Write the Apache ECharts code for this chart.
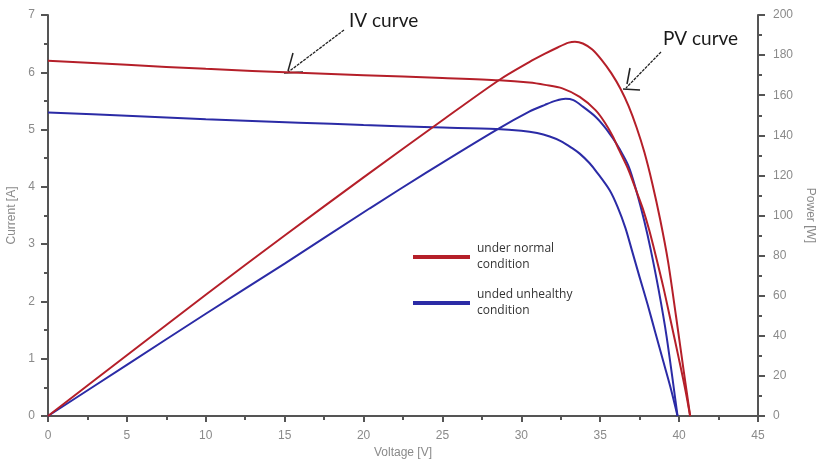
<!DOCTYPE html>
<html>
<head>
<meta charset="utf-8">
<script src="https://cdn.jsdelivr.net/npm/echarts@6/dist/echarts.min.js"></script>
<style>
html,body{margin:0;padding:0;background:#fff;}
#chart{width:819px;height:464px;}
</style>
</head>
<body>
<div id="chart"></div>
<script>
// ---- Data ----
const normalIV_V = [0, 5, 10, 15.9, 20, 25, 28.6, 30.5, 31.5, 32.6, 33.7, 34.7, 35.3, 35.8, 36.2, 36.8, 37.3, 37.7, 38.1, 38.5, 39.0, 39.5, 40.0, 40.4, 40.7];
const normalIV_I = [6.20, 6.13, 6.06, 5.99, 5.95, 5.90, 5.86, 5.82, 5.78, 5.72, 5.57, 5.34, 5.12, 4.88, 4.64, 4.29, 3.92, 3.62, 3.25, 2.82, 2.25, 1.62, 0.98, 0.45, 0];

const normalPV_V = [0, 5, 10, 15, 20, 25, 28.6, 30.5, 31.5, 32.3, 33.0, 33.4, 33.9, 34.5, 35.1, 35.7, 36.3, 36.8, 37.3, 37.8, 38.3, 38.8, 39.3, 39.8, 40.3, 40.7];
const normalPV_P = [0, 30.3, 60.5, 90, 119, 147.5, 167.6, 176.5, 180.7, 183.8, 186.2, 186.7, 185.8, 182.8, 177.5, 171, 163, 154.5, 144, 131.5, 116, 98, 77, 50, 22, 0];

const faultIV_V = [0, 5, 10, 15.9, 20, 24.4, 28.4, 30.0, 31.0, 31.8, 32.5, 33.2, 33.7, 34.3, 34.8, 35.6, 36.1, 36.6, 37.0, 37.5, 38.0, 38.5, 39.0, 39.5, 39.9];
const faultIV_I = [5.30, 5.24, 5.18, 5.12, 5.08, 5.04, 5.01, 4.98, 4.94, 4.88, 4.80, 4.68, 4.58, 4.42, 4.25, 3.94, 3.65, 3.28, 2.90, 2.42, 1.95, 1.45, 0.95, 0.45, 0];

const faultPV_V = [0, 5, 10, 15, 20.4, 24, 28.4, 30.5, 31.5, 32.2, 32.8, 33.3, 33.9, 34.7, 35.3, 35.8, 36.2, 36.8, 37.3, 37.8, 38.2, 38.7, 39.2, 39.9];
const faultPV_P = [0, 25.5, 51, 76, 103.6, 121.5, 142.6, 151.8, 155.2, 157.3, 158.2, 157.5, 154.3, 149.3, 144, 138.5, 133.5, 124.5, 112, 97, 83, 63, 40, 0];

const seriesNames = ['under normal condition', 'unded unhealthy condition'];
const legendLabels = {'under normal condition': 'under normal\ncondition', 'unded unhealthy condition': 'unded unhealthy\ncondition'};
const xTicks = {min: 0, max: 45, interval: 5};
const iTicks = {min: 0, max: 7, interval: 1};
const pTicks = {min: 0, max: 200, interval: 20};

const RED = '#b51f29';
const BLUE = '#2b2ba6';

function zip(a, b) { return a.map((v, i) => [v, b[i]]); }

const chart = echarts.init(document.getElementById('chart'), null, {renderer: 'canvas'});

const axisCommon = {
  axisLine: {show: true, lineStyle: {color: '#555', width: 2}},
  axisTick: {show: true, inside: false, length: 7, lineStyle: {color: '#555', width: 2}},
  minorTick: {show: true, splitNumber: 2, length: 4, lineStyle: {color: '#555', width: 2}},
  splitLine: {show: false},
  axisLabel: {color: '#8a8a8a', fontSize: 12, fontFamily: 'Liberation Sans'},
  nameTextStyle: {color: '#8a8a8a', fontSize: 12, fontFamily: 'Liberation Sans'}
};

const lineCommon = {type: 'line', smooth: 0.3, showSymbol: false};

const option = {
  backgroundColor: '#fff',
  animation: false,
  grid: {left: 48, right: 61, top: 15, bottom: 48, containLabel: false, outerBoundsMode: 'none'},
  legend: {
    data: seriesNames,
    orient: 'vertical',
    left: 413,
    top: 234,
    padding: 0,
    itemGap: 0,
    itemWidth: 57,
    itemHeight: 4,
    icon: 'rect',
    selectedMode: false,
    formatter: n => legendLabels[n],
    textStyle: {color: '#333', fontSize: 12, fontFamily: 'Open Sans', lineHeight: 16, padding: [14, 0, 0, 2]}
  },
  xAxis: Object.assign({}, axisCommon, {
    type: 'value', min: xTicks.min, max: xTicks.max, interval: xTicks.interval,
    name: 'Voltage [V]', nameLocation: 'middle', nameGap: 30,
    axisTick: {show: true, length: 6, lineStyle: {color: '#555', width: 2}},
    axisLabel: Object.assign({}, axisCommon.axisLabel, {margin: 14})
  }),
  yAxis: [
    Object.assign({}, axisCommon, {
      type: 'value', min: iTicks.min, max: iTicks.max, interval: iTicks.interval, position: 'left',
      name: 'Current [A]', nameLocation: 'middle', nameGap: 23,
      axisLabel: Object.assign({}, axisCommon.axisLabel, {margin: 13})
    }),
    Object.assign({}, axisCommon, {
      type: 'value', min: pTicks.min, max: pTicks.max, interval: pTicks.interval, position: 'right',
      name: 'Power [W]', nameLocation: 'middle', nameGap: 46, nameRotate: -90,
      axisLabel: Object.assign({}, axisCommon.axisLabel, {margin: 15})
    })
  ],
  series: [
    Object.assign({}, lineCommon, {name: seriesNames[0], yAxisIndex: 0, data: zip(normalIV_V, normalIV_I), lineStyle: {color: RED, width: 2}, itemStyle: {color: RED}, z: 3}),
    Object.assign({}, lineCommon, {name: seriesNames[0], yAxisIndex: 1, data: zip(normalPV_V, normalPV_P), lineStyle: {color: RED, width: 2}, itemStyle: {color: RED}, z: 3}),
    Object.assign({}, lineCommon, {name: seriesNames[1], yAxisIndex: 0, data: zip(faultIV_V, faultIV_I), lineStyle: {color: BLUE, width: 2}, itemStyle: {color: BLUE}, z: 2}),
    Object.assign({}, lineCommon, {name: seriesNames[1], yAxisIndex: 1, data: zip(faultPV_V, faultPV_P), lineStyle: {color: BLUE, width: 2}, itemStyle: {color: BLUE}, z: 2})
  ],
  graphic: [
    {type: 'text', left: 349, top: 11, style: {text: 'IV curve', fill: '#1a1a1a', fontSize: 19, fontFamily: 'Lato'}},
    {type: 'text', left: 663, top: 29, style: {text: 'PV curve', fill: '#1a1a1a', fontSize: 19, fontFamily: 'Lato'}},
    {type: 'polyline', shape: {points: [[344, 30], [287, 73]]}, style: {stroke: '#222', lineWidth: 1.3, lineDash: [3, 1]}},
    {type: 'polyline', shape: {points: [[293, 53], [288, 71]]}, style: {stroke: '#222', lineWidth: 1.5}},
    {type: 'polyline', shape: {points: [[284, 73], [303, 72]]}, style: {stroke: '#222', lineWidth: 1.5}},
    {type: 'polyline', shape: {points: [[661, 52], [626, 88]]}, style: {stroke: '#222', lineWidth: 1.3, lineDash: [3, 1]}},
    {type: 'polyline', shape: {points: [[630, 68], [627, 84]]}, style: {stroke: '#222', lineWidth: 1.5}},
    {type: 'polyline', shape: {points: [[623, 89], [640, 90]]}, style: {stroke: '#222', lineWidth: 1.5}}
  ]
};

chart.setOption(option);
</script>
</body>
</html>
